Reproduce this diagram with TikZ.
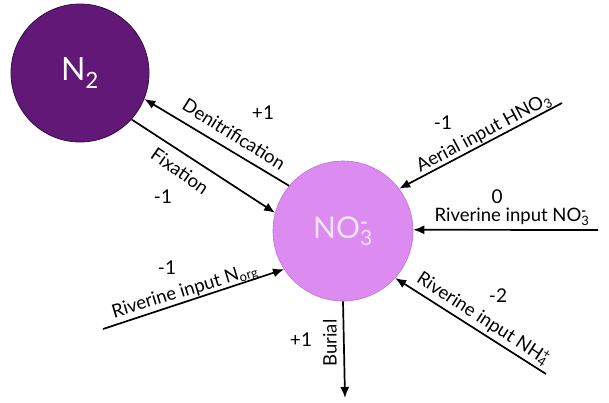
\documentclass[tikz,border=0pt]{standalone}
\usepackage{fontspec}
\setmainfont{Lato}
\usetikzlibrary{arrows.meta}
\definecolor{ntwo}{RGB}{98,24,118}
\definecolor{ntwoline}{RGB}{55,10,70}
\definecolor{nothree}{RGB}{220,140,240}
\definecolor{nothreeline}{RGB}{195,110,220}
\definecolor{nothreetext}{RGB}{246,226,250}
\tikzset{
  flow/.style={line width=1.7pt, -{Latex[length=11pt,width=9pt]}},
  lbl/.style={font=\fontsize{18.5}{21}\selectfont, inner sep=0pt},
  num/.style={font=\fontsize{19}{22}\selectfont, inner sep=0pt},
}
\newcommand{\stk}[2]{\rlap{\textsuperscript{#1}}\textsubscript{#2}}
\begin{document}
\begin{tikzpicture}[x=1pt,y=-1pt]
\useasboundingbox (0,0) rectangle (609,402);
\node[circle, minimum size=138pt, fill=ntwo, draw=ntwoline, line width=0.8pt, inner sep=0pt,
      text=white, font=\fontsize{32}{36}\selectfont] (n2) at (80,73) {N\textsubscript{2}};
\node[circle, minimum size=140pt, fill=nothree, draw=nothreeline, line width=0.6pt, inner sep=0pt,
      text=nothreetext, font=\fontsize{30}{34}\selectfont] (no3) at (343,231) {NO\stk{\textbf{-}}{3}};
% free ends
\coordinate (hno3) at (562,103);
\coordinate (rno3) at (598,230);
\coordinate (nh4) at (546,374);
\coordinate (bur) at (345,398);
\coordinate (norg) at (103,329);
% connectors
\draw[flow] (no3.140) -- (n2.-22);
\draw[flow] (n2.-42) -- (no3.165);
\draw[flow] (hno3) -- (no3.37);
\draw[flow] (rno3) -- (no3.1);
\draw[flow] (nh4) -- (no3.-42);
\draw[flow] (no3.-90) -- (bur);
\draw[flow] (norg) -- (no3.213);
% labels
\node[lbl, rotate=-32] (ldenit) at (234,134) {Denitrification};
\node[num] (vdenit) at (263,113) {+1};
\node[lbl, rotate=-35] (lfix) at (180,171) {Fixation};
\node[num] (vfix) at (163,197) {-1};
\node[lbl, rotate=28] (lhno3) at (484,133) {Aerial input HNO\textsubscript{3}};
\node[num] (vhno3) at (443,123) {-1};
\node[lbl] (lrno3) at (512,217) {Riverine input NO\stk{\textbf{-}}{3}};
\node[num] (vrno3) at (497,197) {0};
\node[lbl, rotate=-33] (lnh4) at (483,319) {Riverine input NH\stk{+}{4}};
\node[num] (vnh4) at (498,296) {-2};
\node[lbl, rotate=90] (lbur) at (330,343) {Burial};
\node[num] (vbur) at (301,340) {+1};
\node[lbl, rotate=17] (lnorg) at (185,292) {Riverine input N\textsubscript{org}};
\node[num] (vnorg) at (167,268) {-1};
\end{tikzpicture}
\end{document}
